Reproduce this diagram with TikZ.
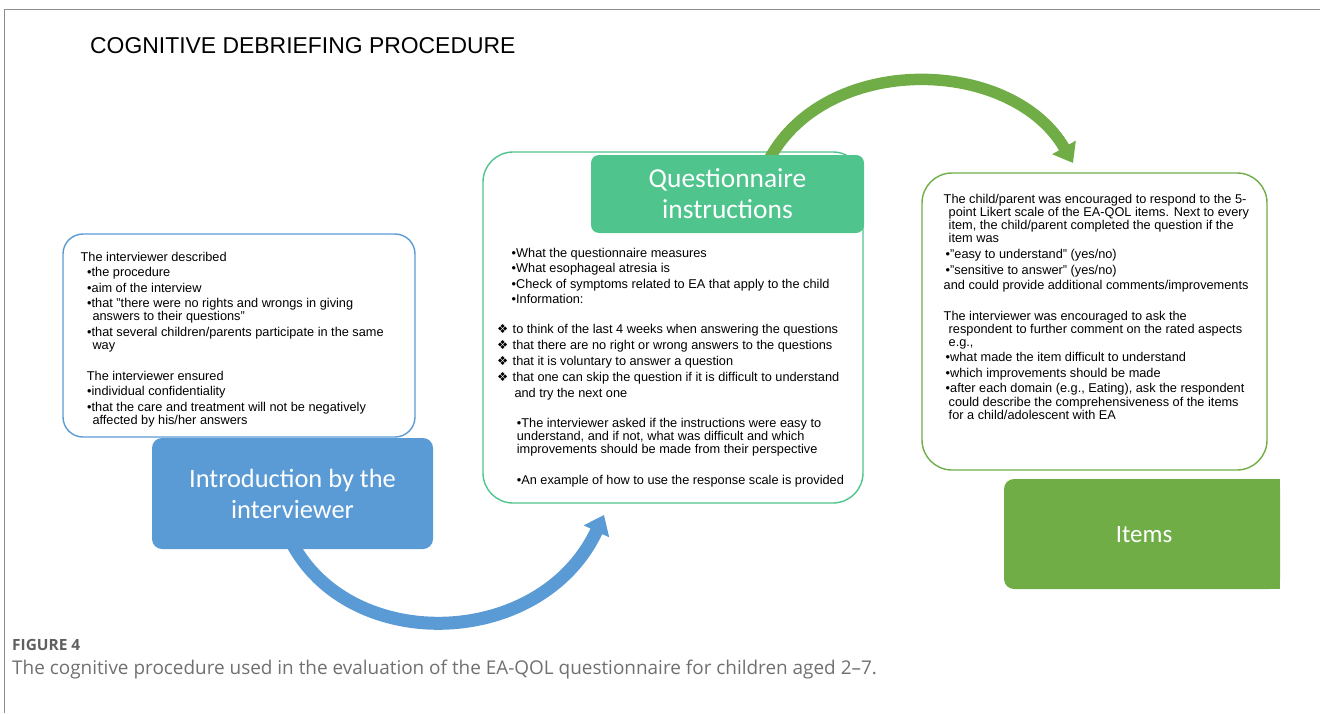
\documentclass[tikz,border=0pt]{standalone}
\usepackage{fontspec}
\setmainfont{Liberation Sans}
\newfontfamily\calfont{Carlito}
\newfontfamily\osfont{Open Sans}
\newfontfamily\djfont{DejaVu Sans}
\usetikzlibrary{arrows.meta}
\definecolor{bluec}{HTML}{5B9BD5}
\definecolor{qgreen}{HTML}{4FC48D}
\definecolor{igreen}{HTML}{70AD47}
\definecolor{framegray}{HTML}{8C8C8C}
\definecolor{capgray}{HTML}{707070}
\newcommand\dia{\makebox[15.5bp][l]{\raisebox{-0.3bp}{\djfont\fontsize{12.5}{12}\selectfont\char"2756}}}
\newcommand\txtline[4]{\node[txt] (#1) at (#2,#3) {#4};}
\begin{document}
\begin{tikzpicture}[x=1bp,y=-1bp,
  txt/.style={anchor=base west, inner sep=0pt, font=\fontsize{12.8}{15}\selectfont},
  stepbox/.style={fill=#1, draw=none, rounded corners=10bp, inner sep=0pt},
  steptext/.style={text=white, align=center, inner sep=0pt},
  flow/.style={line width=#1, line cap=butt}]
\useasboundingbox (0,0) rectangle (1320,713);
% outer frame lines
\draw[framegray, line width=1bp] (4,713) -- (4,10) -- (1320,10);
% title
\node[anchor=base west, inner sep=0pt, font=\fontsize{23}{26}\selectfont] (title) at (90,54) {COGNITIVE DEBRIEFING PROCEDURE};

% text frames
\node[draw=bluec, line width=1.4bp, fill=white, rounded corners=20bp, minimum width=352bp, minimum height=203bp, inner sep=0pt] (lbox) at (239,335.5) {};
\node[draw=qgreen, line width=1.4bp, fill=white, rounded corners=30bp, minimum width=380bp, minimum height=351bp, inner sep=0pt] (mbox) at (673,327.5) {};
\node[draw=igreen, line width=1.4bp, fill=white, rounded corners=30bp, minimum width=345bp, minimum height=297bp, inner sep=0pt] (rbox) at (1094.5,321.5) {};

% connectors
\coordinate (b0) at (288,535);
\coordinate (b1) at (604,515);
\draw[bluec, flow=13bp, -{Triangle[length=18bp,width=27bp]}] (b0) .. controls (342,655) and (540,652) .. (b1);
\coordinate (g0) at (764,170);
\coordinate (g1) at (1073,163);
\draw[igreen, flow=11.5bp, -{Triangle[length=18bp,width=26bp]}] (g0) .. controls (815,52) and (1010,54) .. (g1);

% step boxes
\node[stepbox=bluec, minimum width=281bp, minimum height=111bp] (intro) at (292.5,493.5) {};
\node[steptext, font=\calfont\fontsize{26.5}{31.5}\selectfont] (introt) at (292.5,494) {Introduction by the\\interviewer};
\node[stepbox=qgreen, rounded corners=8bp, minimum width=273bp, minimum height=78bp] (quest) at (727.5,194) {};
\node[steptext, font=\calfont\fontsize{27.5}{31}\selectfont] (questt) at (727.5,193.5) {Questionnaire\\instructions};
\node[stepbox=igreen, minimum width=276bp, minimum height=110bp] (items) at (1142,534) {};
\fill[igreen] (items.north) rectangle (items.south east);
\node[steptext, font=\calfont\fontsize{25}{30}\selectfont] (itemst) at (1144,535) {Items};

% left box text
\txtline{l1}{80.5}{261.7}{The interviewer described}
\txtline{l2}{87}{276.7}{•the procedure}
\txtline{l3}{87}{292.3}{•aim of the interview}
\txtline{l4}{87}{307.3}{•that "there were no rights and wrongs in giving}
\txtline{l5}{92.3}{320.7}{answers to their questions"}
\txtline{l6}{87}{336.7}{•that several children/parents participate in the same}
\txtline{l7}{92.3}{349.3}{way}
\txtline{l8}{86.7}{380}{The interviewer ensured}
\txtline{l9}{87}{395.7}{•individual confidentiality}
\txtline{l10}{87}{411.7}{•that the care and treatment will not be negatively}
\txtline{l11}{92.3}{424.5}{affected by his/her answers}

% middle box text
\txtline{m1}{511.5}{257.3}{•What the questionnaire measures}
\txtline{m2}{511.5}{272.7}{•What esophageal atresia is}
\txtline{m3}{511.5}{288.3}{•Check of symptoms related to EA that apply to the child}
\txtline{m4}{511.5}{303.3}{•Information:}
\txtline{m5}{497}{333.3}{\dia to think of the last 4 weeks when answering the questions}
\txtline{m6}{497}{349.3}{\dia that there are no right or wrong answers to the questions}
\txtline{m7}{497}{365.3}{\dia that it is voluntary to answer a question}
\txtline{m8}{497}{381.3}{\dia that one can skip the question if it is difficult to understand}
\txtline{m9}{514.3}{397.3}{and try the next one}
\txtline{m10}{516.7}{427.3}{•The interviewer asked if the instructions were easy to}
\txtline{m11}{516.7}{440}{understand, and if not, what was difficult and which}
\txtline{m12}{516.7}{453.3}{improvements should be made from their perspective}
\txtline{m13}{516.7}{484.3}{•An example of how to use the response scale is provided}

% right box text
\txtline{r1}{943.5}{203.3}{The child/parent was encouraged to respond to the 5-}
\txtline{r2}{948.5}{216.7}{point Likert scale of the EA-QOL items. Next to every}
\txtline{r3}{948.5}{229.3}{item, the child/parent completed the question if the}
\txtline{r4}{948.5}{242.7}{item was}
\txtline{r5}{945.5}{258.3}{•"easy to understand" (yes/no)}
\txtline{r6}{945.5}{274}{•"sensitive to answer" (yes/no)}
\txtline{r7}{943.5}{289.3}{and could provide additional comments/improvements}
\txtline{r8}{943.5}{320}{The interviewer was encouraged to ask the}
\txtline{r9}{948.5}{333.3}{respondent to further comment on the rated aspects}
\txtline{r10}{948.5}{346}{e.g.,}
\txtline{r11}{945.5}{361.7}{•what made the item difficult to understand}
\txtline{r12}{945.5}{377.3}{•which improvements should be made}
\txtline{r13}{945.5}{392.7}{•after each domain (e.g., Eating), ask the respondent}
\txtline{r14}{948.5}{406}{could describe the comprehensiveness of the items}
\txtline{r15}{948.5}{419.3}{for a child/adolescent with EA}

% caption
\node[anchor=base west, inner sep=0pt, text=capgray!85!black, font=\osfont\bfseries\fontsize{15.5}{17}\selectfont] (fig) at (12,650) {FIGURE 4};
\node[anchor=base west, inner sep=0pt, text=capgray, font=\osfont\fontsize{19}{22}\selectfont] (cap) at (12,674) {The cognitive procedure used in the evaluation of the EA-QOL questionnaire for children aged 2–7.};
\end{tikzpicture}
\end{document}
